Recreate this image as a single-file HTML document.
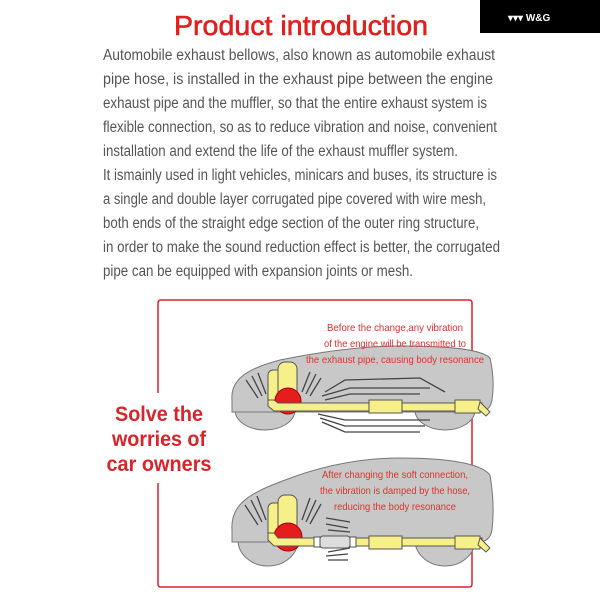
<!DOCTYPE html>
<html><head><meta charset="utf-8"><style>
html,body{margin:0;padding:0;background:#fff;}
svg{display:block;}
</style></head><body>
<svg width="600" height="600" viewBox="0 0 600 600" xmlns="http://www.w3.org/2000/svg">
<rect width="600" height="600" fill="#fff"/>
<rect x="480" y="0" width="120" height="33" fill="#000"/>
<text x="508" y="21" font-family="Liberation Sans, sans-serif" font-size="10" font-weight="bold" fill="#fff">▾▾▾ W&amp;G</text>
<text x="301" y="35" text-anchor="middle" font-family="Liberation Sans, sans-serif" font-size="28" fill="#e0201e" stroke="#e0201e" stroke-width="0.6" textLength="254" lengthAdjust="spacingAndGlyphs">Product introduction</text>
<g font-family="Liberation Sans, sans-serif" font-size="15.5" fill="#555">
<text x="103" y="60" textLength="392" lengthAdjust="spacingAndGlyphs">Automobile exhaust bellows, also known as automobile exhaust</text>
<text x="103" y="84" textLength="390" lengthAdjust="spacingAndGlyphs">pipe hose, is installed in the exhaust pipe between the engine</text>
<text x="103" y="108" textLength="384" lengthAdjust="spacingAndGlyphs">exhaust pipe and the muffler, so that the entire exhaust system is</text>
<text x="103" y="132" textLength="394" lengthAdjust="spacingAndGlyphs">flexible connection, so as to reduce vibration and noise, convenient</text>
<text x="103" y="156" textLength="355" lengthAdjust="spacingAndGlyphs">installation and extend the life of the exhaust muffler system.</text>
<text x="103" y="180" textLength="394" lengthAdjust="spacingAndGlyphs">It ismainly used in light vehicles, minicars and buses, its structure is</text>
<text x="103" y="204" textLength="383" lengthAdjust="spacingAndGlyphs">a single and double layer corrugated pipe covered with wire mesh,</text>
<text x="103" y="228" textLength="376" lengthAdjust="spacingAndGlyphs">both ends of the straight edge section of the outer ring structure,</text>
<text x="103" y="252" textLength="397" lengthAdjust="spacingAndGlyphs">in order to make the sound reduction effect is better, the corrugated</text>
<text x="103" y="276" textLength="310" lengthAdjust="spacingAndGlyphs">pipe can be equipped with expansion joints or mesh.</text>
</g>
<path d="M158,393 L158,303 Q158,300 161,300 L469,300 Q472,300 472,303 L472,584 Q472,587 469,587 L161,587 Q158,587 158,584 L158,483" fill="none" stroke="#d8242a" stroke-width="1.5"/>
<g font-family="Liberation Sans, sans-serif" font-size="21" font-weight="bold" fill="#d8242a" text-anchor="middle">
<text x="159" y="421" textLength="88" lengthAdjust="spacingAndGlyphs">Solve the</text>
<text x="159" y="446" textLength="94" lengthAdjust="spacingAndGlyphs">worries of</text>
<text x="159" y="471" textLength="105" lengthAdjust="spacingAndGlyphs">car owners</text>
</g>
<g>
<ellipse cx="265" cy="410" rx="30" ry="20" fill="#c8c8c8" stroke="#777"/>
<ellipse cx="445" cy="410" rx="30" ry="20" fill="#c8c8c8" stroke="#777"/>
<path d="M232,400 C230,378 250,368 280,360 C320,352 360,346 400,346 C440,346 480,348 490,358 Q495,380 492,400 Q490,412 478,412 L232,412 Z" fill="#c8c8c8" stroke="#777"/>
<g stroke="#444" stroke-width="1.3" fill="none">
<path d="M246,380 L258,398 M252,376 L262,396 M258,373 L266,394"/>
<path d="M310,372 L302,392 M316,374 L306,394 M321,378 L310,396"/>
<path d="M325,392 L345,380 L420,378 L445,392 M322,396 L350,388 L430,388 M325,400 L350,394 L420,394"/>
<path d="M318,414 L345,420 L430,420 M320,418 L345,426 L425,426 M322,422 L345,432 L420,432"/>
</g>
<rect x="268" y="370" width="15" height="36" rx="5" fill="#f7f08a" stroke="#555"/>
<rect x="278" y="362" width="19" height="42" rx="7" fill="#f7f08a" stroke="#555"/>
<circle cx="288" cy="401" r="13" fill="#e41e1e" stroke="#a00"/>
<path d="M268,400 L268,406 L274,411 L482,411 L482,403 L278,403 L274,400 Z" fill="#f7f08a" stroke="#555"/>
<rect x="369" y="400" width="33" height="13" fill="#f7f08a" stroke="#555"/>
<rect x="455" y="400" width="25" height="13" fill="#f7f08a" stroke="#555"/>
<path d="M480,402 L490,412 L486,416 L478,409 Z" fill="#f7f08a" stroke="#555"/>
<g font-family="Liberation Sans, sans-serif" font-size="10.5" fill="#e0302e" text-anchor="middle">
<text x="395" y="331" textLength="136" lengthAdjust="spacingAndGlyphs">Before the change,any vibration</text>
<text x="395" y="347" textLength="142" lengthAdjust="spacingAndGlyphs">of the engine will be transmitted to</text>
<text x="395" y="363" textLength="178" lengthAdjust="spacingAndGlyphs">the exhaust pipe, causing body resonance</text>
</g>
</g>
<g>
<ellipse cx="268" cy="540" rx="30" ry="26" fill="#c8c8c8" stroke="#777"/>
<ellipse cx="445" cy="540" rx="30" ry="26" fill="#c8c8c8" stroke="#777"/>
<path d="M232,530 C230,505 250,493 280,482 C320,466 360,458 400,458 C440,458 480,462 490,475 Q495,505 492,530 Q490,542 478,542 L232,542 Z" fill="#c8c8c8" stroke="#777"/>
<g stroke="#444" stroke-width="1.3" fill="none">
<path d="M245,505 L258,525 M251,500 L262,522 M257,496 L266,520"/>
<path d="M310,498 L302,520 M316,500 L306,522 M321,504 L310,524"/>
<path d="M326,518 L350,522 M326,524 L348,528 M328,530 L350,532"/>
<path d="M328,552 L350,548 M326,556 L348,554 M328,560 L348,560"/>
</g>
<rect x="268" y="503" width="15" height="38" rx="5" fill="#f7f08a" stroke="#555"/>
<rect x="278" y="495" width="19" height="45" rx="7" fill="#f7f08a" stroke="#555"/>
<circle cx="288" cy="537" r="14" fill="#e41e1e" stroke="#a00"/>
<path d="M268,533 L268,540 L274,546 L482,546 L482,538 L278,538 L274,533 Z" fill="#f7f08a" stroke="#555"/>
<rect x="314" y="537" width="6" height="10" fill="#fff" stroke="#555"/>
<rect x="320" y="536" width="30" height="12" rx="3" fill="#ddd" stroke="#555"/>
<rect x="350" y="537" width="6" height="10" fill="#fff" stroke="#555"/>
<rect x="369" y="536" width="33" height="13" fill="#f7f08a" stroke="#555"/>
<rect x="455" y="536" width="25" height="13" fill="#f7f08a" stroke="#555"/>
<path d="M480,538 L490,548 L486,552 L478,545 Z" fill="#f7f08a" stroke="#555"/>
<g font-family="Liberation Sans, sans-serif" font-size="10.5" fill="#e0302e" text-anchor="middle">
<text x="395" y="478" textLength="146" lengthAdjust="spacingAndGlyphs">After changing the soft connection,</text>
<text x="395" y="494" textLength="150" lengthAdjust="spacingAndGlyphs">the vibration is damped by the hose,</text>
<text x="395" y="510" textLength="122" lengthAdjust="spacingAndGlyphs">reducing the body resonance</text>
</g>
</g>
</svg>
</body></html>
